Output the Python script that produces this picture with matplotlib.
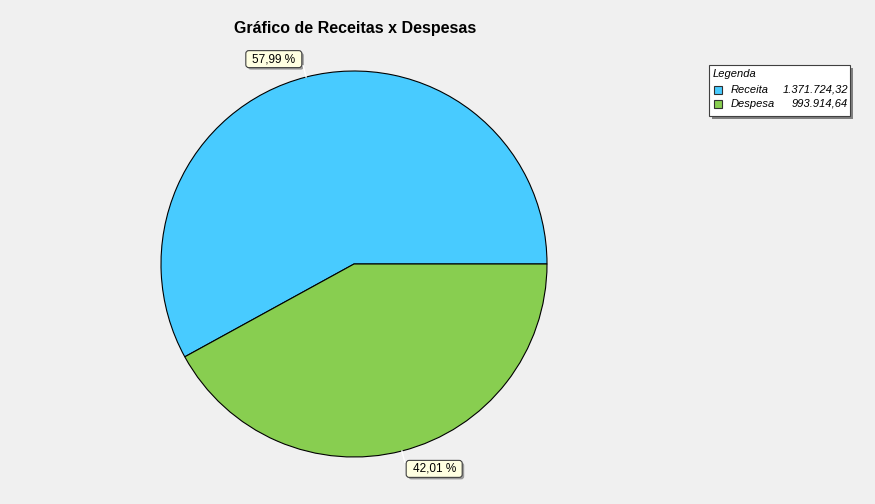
import numpy as np
import matplotlib
matplotlib.use('Agg')
import matplotlib.pyplot as plt
from matplotlib.patches import Rectangle, FancyBboxPatch

plt.rcParams['font.family'] = ['Liberation Sans', 'DejaVu Sans']

categories = ['Receita', 'Despesa']
values = [1371724.32, 993914.64]
value_labels = ['1.371.724,32', '993.914,64']
colors = ['#48CBFF', '#88CE50']
title = 'Gráfico de Receitas x Despesas'

W, H = 875, 504
fig = plt.figure(figsize=(W / 100, H / 100), dpi=100)
fig.patch.set_facecolor('#f0f0f0')

# pie box in pixels: centre (354, 264), radius 193
cx, cy, r = 354, 264, 193
ax = fig.add_axes([(cx - r) / W, (H - cy - r) / H, 2 * r / W, 2 * r / H])
ax.set_facecolor('none')
wedges, _ = ax.pie(values, colors=colors, startangle=0, counterclock=True,
                   wedgeprops=dict(edgecolor='black', linewidth=0.8))
ax.set_xlim(-1, 1)
ax.set_ylim(-1, 1)
ax.set_aspect('equal')
ax.axis('off')

px = 1.0 / r  # one pixel in data units
bw, bh = 56 * px, 17 * px
total = sum(values)
for w, v in zip(wedges, values):
    m = np.deg2rad((w.theta1 + w.theta2) / 2)
    ax.plot([np.cos(m), 1.06 * np.cos(m)], [np.sin(m), 1.06 * np.sin(m)],
            color='white', lw=1, clip_on=False)
    a = m + np.deg2rad(7)
    x, y = 1.14 * np.cos(a), 1.14 * np.sin(a)
    pct = f'{v / total * 100:.2f}'.replace('.', ',') + ' %'
    ax.add_patch(FancyBboxPatch((x - bw / 2 + 2 * px, y - bh / 2 - 2 * px), bw, bh,
                                boxstyle=f'round,pad=0,rounding_size={3 * px}',
                                fc='#9a9a9a', ec='none', clip_on=False))
    ax.add_patch(FancyBboxPatch((x - bw / 2, y - bh / 2), bw, bh,
                                boxstyle=f'round,pad=0,rounding_size={3 * px}',
                                fc='#ffffe1', ec='#404040', lw=0.8, clip_on=False))
    ax.text(x, y, pct, ha='center', va='center', fontsize=8.5, clip_on=False)

fig.text(355 / W, 1 - 28 / H, title, ha='center', va='center',
         fontsize=11.5, fontweight='bold')

# legend box
lx0, ly0, lx1, ly1 = 709, 65, 850, 116
fig.patches.append(Rectangle(((lx0 + 3) / W, 1 - (ly1 + 3) / H), (lx1 - lx0) / W, (ly1 - ly0) / H,
                             transform=fig.transFigure, fc='#808080', ec='none'))
fig.patches.append(Rectangle((lx0 / W, 1 - ly1 / H), (lx1 - lx0) / W, (ly1 - ly0) / H,
                             transform=fig.transFigure, fc='white', ec='#404040', lw=0.8))
fig.text(713 / W, 1 - 74 / H, 'Legenda', fontsize=8, style='italic', va='center')
for i, (cat, lab, col) in enumerate(zip(categories, value_labels, colors)):
    yy = 90 + i * 14
    fig.patches.append(Rectangle((714 / W, 1 - (yy + 4) / H), 8 / W, 8 / H,
                                 transform=fig.transFigure, fc=col, ec='#303030', lw=0.8))
    fig.text(731 / W, 1 - yy / H, cat, fontsize=8, style='italic', va='center')
    fig.text(848 / W, 1 - yy / H, lab, fontsize=8, style='italic', va='center', ha='right')

fig.savefig('out.png', dpi=100, facecolor=fig.get_facecolor())
